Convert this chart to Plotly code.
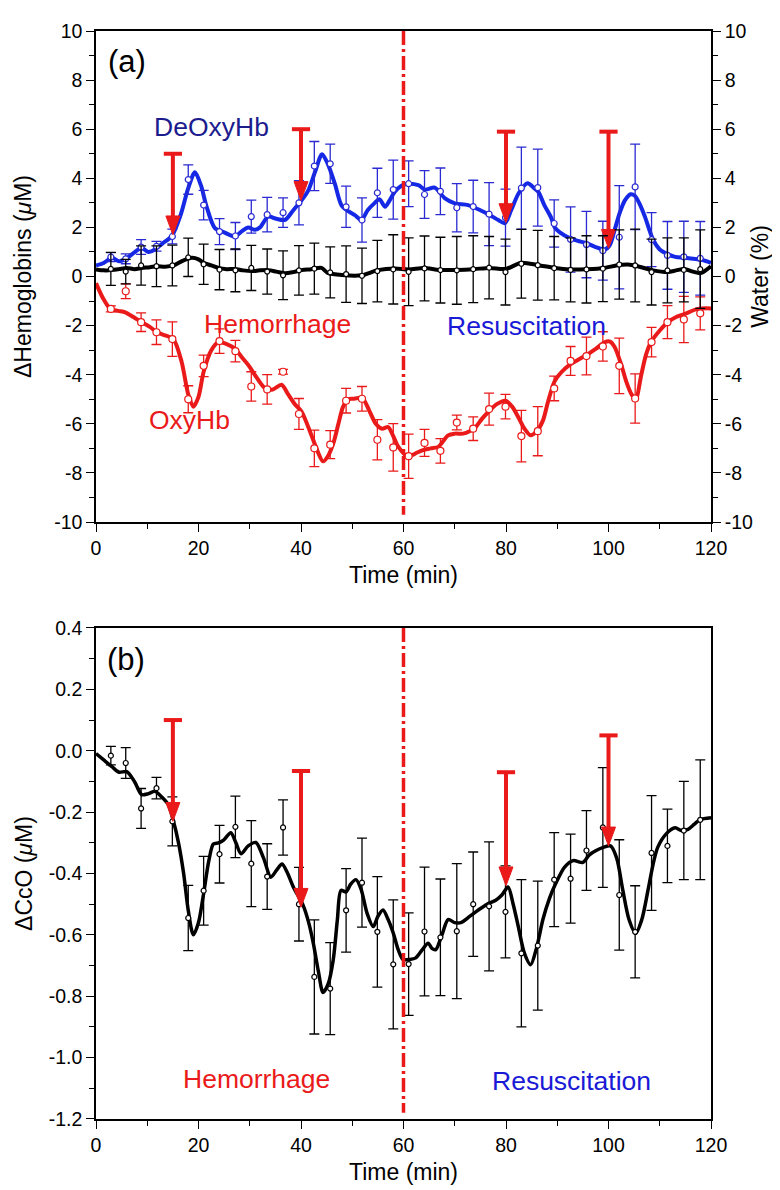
import plotly.graph_objects as go

# ---------------- data ----------------
t_pts = [2.9, 5.8, 8.8, 11.8, 14.9, 18.0, 21.0, 24.1, 27.2, 30.3, 33.4, 36.5, 39.6,
         42.6, 45.7, 48.8, 51.9, 54.9, 58.0, 61.0, 64.1, 67.2, 70.4, 73.6, 76.7,
         79.9, 83.0, 86.2, 89.4, 92.6, 95.7, 98.9, 102.1, 105.2, 108.4, 111.5,
         114.7, 117.9]

deoxy_pts = [0.79, 0.72, 1.2, 1.23, 1.63, 3.95, 2.91, 1.83, 1.65, 2.44, 2.52, 2.6, 3.0,
             4.5, 4.59, 2.84, 2.3, 3.41, 3.54, 3.78, 3.34, 3.47, 2.8, 2.85, 2.54,
             2.4, 3.6, 3.62, 2.16, 1.51, 1.3, 1.05, 1.6, 3.65, 1.5, 0.86, 0.8, 0.74]
deoxy_err = [0.18, 0.2, 0.3, 0.2, 0.3, 0.6, 0.6, 0.53, 0.55, 0.67, 0.7, 0.6, 0.9,
             1.0, 0.8, 0.84, 0.9, 1.0, 1.2, 0.93, 0.97, 0.95, 0.98, 1.07, 1.28,
             1.16, 1.67, 1.57, 0.96, 1.33, 1.35, 1.2, 2.1, 1.74, 1.1, 1.38, 1.45, 1.5]

oxy_pts = [-1.32, -0.6, -1.86, -2.27, -2.55, -5.0, -3.64, -2.63, -3.04, -4.48, -4.6, -3.88, -5.6,
           -7.0, -6.85, -5.06, -4.98, -6.65, -6.96, -7.32, -6.78, -7.1, -5.95, -6.2, -5.4,
           -5.3, -6.5, -6.3, -4.56, -3.44, -3.24, -2.85, -3.64, -4.97, -2.67, -1.86, -1.75, -1.5]
oxy_err = [0.12, 0.3, 0.38, 0.5, 0.7, 0.55, 0.44, 0.5, 0.44, 0.6, 0.6, 0.1, 0.63,
           0.74, 0.57, 0.5, 0.5, 0.82, 0.97, 0.9, 0.55, 0.5, 0.3, 0.48, 0.65,
           0.5, 1.05, 1.0, 0.5, 0.59, 0.77, 0.6, 1.13, 1.0, 0.6, 0.67, 0.94, 0.67]

water_pts = [0.31, 0.2, 0.45, 0.42, 0.45, 0.78, 0.5, 0.28, 0.25, 0.35, 0.2, 0.05, 0.25,
             0.32, 0.17, 0.1, 0.03, 0.22, 0.29, 0.19, 0.33, 0.26, 0.25, 0.3, 0.36,
             0.18, 0.52, 0.46, 0.34, 0.27, 0.29, 0.32, 0.49, 0.45, 0.18, 0.25, 0.27, 0.3]
water_err = [0.67, 0.5, 0.8, 0.83, 0.83, 0.78, 0.82, 0.82, 0.87, 0.92, 0.92, 0.99, 1.01,
             1.04, 1.04, 1.15, 1.13, 1.25, 1.41, 1.38, 1.32, 1.34, 1.38, 1.36, 1.27,
             1.34, 1.4, 1.42, 1.29, 1.3, 1.37, 1.34, 1.41, 1.48, 1.34, 1.32, 1.3, 1.6]

cco_pts = [-0.016, -0.04, -0.188, -0.122, -0.23, -0.545, -0.456, -0.337, -0.248, -0.368, -0.41, -0.25, -0.5,
           -0.737, -0.775, -0.52, -0.43, -0.59, -0.696, -0.695, -0.589, -0.608, -0.588, -0.5, -0.507,
           -0.525, -0.66, -0.635, -0.42, -0.417, -0.325, -0.25, -0.47, -0.59, -0.333, -0.31, -0.26, -0.225]
cco_err = [0.03, 0.05, 0.065, 0.035, 0.08, 0.106, 0.112, 0.094, 0.1, 0.14, 0.107, 0.09, 0.12,
           0.186, 0.15, 0.136, 0.145, 0.18, 0.21, 0.167, 0.21, 0.19, 0.22, 0.17, 0.21,
           0.15, 0.24, 0.21, 0.153, 0.145, 0.13, 0.195, 0.18, 0.15, 0.187, 0.12, 0.16, 0.195]

# smoothed curves
deoxy_curve_t = [0, 1.5, 3.1, 4.5, 5.7, 7.3, 8.9, 10.2, 11.5, 13, 14.8, 16.5, 18, 19.3, 20.5,
                 21.5, 23.2, 25, 27.1, 28.5, 29.7, 31, 32, 33.6, 35.2, 36.9, 38.5, 40.1, 41.4,
                 42.8, 44.1, 45.2, 46.6, 47.9, 49.3, 50.5, 51.8, 53, 54.4, 55.3, 56.4, 57.3,
                 58.3, 59.6, 60.9, 62.9, 64.2, 66.1, 68.1, 70, 72.6, 75.2, 76.8, 78.5, 79.8,
                 81, 82.5, 84.2, 85.5, 86.3, 87.5, 88.8, 89.5, 90.5, 92.4, 94, 95.7, 97.5,
                 99.3, 100.3, 101.2, 102.2, 103.2, 104.3, 105.1, 106.2, 107.1, 108.7, 110,
                 111.6, 113, 114.9, 116.5, 118.1, 120]
deoxy_curve_y = [0.45, 0.55, 0.76, 0.62, 0.7, 0.95, 1.16, 1.0, 1.1, 1.35, 1.65, 2.5, 3.6, 4.25, 3.7,
                 2.9, 1.97, 1.8, 1.63, 1.85, 2.0, 1.9, 2.0, 2.44, 2.35, 2.31, 2.7, 3.1, 3.5,
                 4.3, 4.98, 4.6, 3.78, 2.9, 2.65, 2.5, 2.3, 2.7, 3.0, 3.15, 2.84, 3.1,
                 3.45, 3.7, 3.78, 3.72, 3.54, 3.62, 3.18, 2.98, 2.91, 2.68, 2.51, 2.3, 2.17,
                 2.7, 3.4, 3.8, 3.6, 3.45, 2.9, 2.4, 2.0, 1.8, 1.57, 1.45, 1.36, 1.2,
                 1.1, 1.3, 1.9, 2.6, 3.1, 3.35, 3.3, 2.9, 2.44, 1.5, 1.1,
                 0.9, 0.8, 0.76, 0.72, 0.68, 0.56]

oxy_curve_t = [0, 1.4, 2.8, 4.3, 5.7, 7.3, 8.9, 10.5, 11.9, 13.5, 15.1, 16.7, 18, 19, 20, 21,
               22.5, 23.9, 25.5, 27.1, 28.5, 29.7, 31.3, 33, 34.5, 36.2, 37.5, 38.8, 40.1,
               41.9, 43.2, 44.3, 45.3, 46.3, 47.3, 48.2, 49.2, 50.2, 51.2, 52.1, 53.4, 54.6,
               55.8, 57, 58, 59, 60.9, 62.4, 63.8, 65.3, 66.8, 68.7, 70, 71.6, 72.9, 74.1,
               75.3, 76.5, 78.2, 79.9, 81.2, 82.4, 83.6, 84.8, 86, 87.2, 88.2, 89.5, 90.8,
               92.4, 94, 95.7, 97.5, 99.3, 100.3, 101.2, 102.5, 103.5, 104.5, 105.3, 106.4,
               107.3, 108.3, 110, 111.6, 113.2, 114.9, 117.4, 120]
oxy_curve_y = [-0.27, -0.9, -1.32, -1.4, -1.46, -1.65, -1.86, -2.05, -2.27, -2.4, -2.55, -3.47, -4.8, -5.3, -4.9, -3.88,
               -3.0, -2.67, -2.75, -2.94, -3.3, -3.6, -4.1, -4.55, -4.6, -4.41, -4.8, -5.2, -5.5,
               -6.39, -7.1, -7.53, -7.3, -6.8, -6.0, -5.31, -5.0, -4.98, -4.95, -4.98, -5.5, -6.0,
               -6.2, -6.13, -6.5, -6.94, -7.34, -7.2, -7.07, -7.0, -6.94, -6.47, -6.4, -6.4, -6.3, -6.13,
               -5.8, -5.53, -5.2, -5.06, -5.3, -5.73, -6.2, -6.47, -6.3, -5.87, -5.1, -4.26, -3.9,
               -3.6, -3.4, -3.2, -2.95, -2.67, -2.65, -2.87, -3.6, -4.3, -4.8, -5.0, -4.0,
               -3.2, -2.67, -2.2, -1.86, -1.65, -1.52, -1.32, -1.3]

water_curve_t = [0, 1.5, 3.1, 4.5, 6, 7.5, 8.9, 10.5, 11.9, 13.5, 15.1, 17, 18.7, 20, 21, 22.5,
                 23.9, 25.5, 27.1, 28.7, 30.4, 32, 33.6, 35.2, 36.9, 38.5, 40.1, 42, 44, 45.2,
                 48, 51.8, 55, 58.3, 61, 64, 67, 70.5, 73.7, 76.8, 80, 83, 86.3, 89.5, 92.4,
                 95.8, 99.2, 101.5, 103.8, 106, 108.7, 111.6, 113.2, 114.8, 116.5, 118, 120]
water_curve_y = [0.29, 0.25, 0.26, 0.3, 0.35, 0.3, 0.35, 0.38, 0.42, 0.4, 0.45, 0.65, 0.76, 0.7, 0.56, 0.45,
                 0.35, 0.3, 0.31, 0.25, 0.22, 0.25, 0.26, 0.2, 0.13, 0.18, 0.26, 0.3, 0.35, 0.15,
                 0.06, 0.05, 0.26, 0.33, 0.29, 0.35, 0.27, 0.27, 0.3, 0.35, 0.31, 0.56, 0.46, 0.35, 0.29,
                 0.3, 0.35, 0.45, 0.49, 0.4, 0.25, 0.18, 0.25, 0.31, 0.2, 0.14, 0.42]

cco_curve_t = [0, 1.5, 3.1, 4.5, 6, 7.5, 8.9, 10.2, 11.5, 12.8, 14.1, 15.1, 16.1, 17.1, 18, 19, 20,
               21, 22, 22.9, 23.9, 24.9, 26.3, 27.3, 28.3, 29.7, 31.2, 32.7, 34.1, 35.2, 36.3,
               37.4, 38.5, 40.4, 41.5, 42.4, 43.4, 44.3, 45.3, 46.3, 47.1, 47.8, 48.8, 49.7,
               50.7, 51.7, 52.9, 54.1, 55, 56, 57, 58, 59, 59.9, 61.2, 62.4, 63.6, 64.8, 65.6,
               66.3, 67.5, 68.7, 70, 71.2, 72.9, 74.6, 76.3, 78, 79.2, 80.4, 81.4, 82.4, 83.6,
               84.8, 86, 87.2, 88.5, 89.7, 91.4, 93.1, 95, 96.2, 97.5, 99, 100.4, 101.6, 102.8,
               104, 105.3, 106.5, 107.7, 108.7, 109.6, 111.3, 113, 114.2, 115.5, 116.7, 117.9, 120]
cco_curve_y = [-0.009, -0.03, -0.052, -0.07, -0.068, -0.1, -0.143, -0.14, -0.132, -0.15, -0.175, -0.229, -0.3, -0.4, -0.52, -0.6, -0.56,
               -0.465, -0.36, -0.304, -0.3, -0.291, -0.267, -0.3, -0.336, -0.31, -0.299, -0.35, -0.412, -0.39, -0.369,
               -0.4, -0.444, -0.503, -0.56, -0.627, -0.72, -0.788, -0.76, -0.68, -0.55, -0.455, -0.46, -0.435,
               -0.42, -0.45, -0.53, -0.573, -0.54, -0.519, -0.55, -0.594, -0.65, -0.68, -0.68, -0.675, -0.65, -0.627, -0.645,
               -0.648, -0.6, -0.55, -0.56, -0.56, -0.54, -0.519, -0.5, -0.487, -0.47, -0.444, -0.5, -0.573, -0.66,
               -0.697, -0.64, -0.55, -0.48, -0.433, -0.38, -0.358, -0.364, -0.34, -0.326, -0.315, -0.31, -0.35, -0.455,
               -0.55, -0.595, -0.55, -0.455, -0.37, -0.315, -0.27, -0.251, -0.26, -0.256, -0.24, -0.224, -0.218]

# red arrows (time, top of bar, arrow tip)
arrow_t = [15, 40, 80, 100]
arrow_top_a = [5.0, 6.0, 5.9, 5.9]
arrow_tip_a = [1.7, 3.1, 2.2, 1.15]
arrow_top_b = [0.1, -0.066, -0.07, 0.05]
arrow_tip_b = [-0.23, -0.51, -0.44, -0.31]

phase_change_t = 60

time_ticks = [0, 20, 40, 60, 80, 100, 120]
time_ticktext = ["0", "20", "40", "60", "80", "100", "120"]
hb_ticks = [-10, -8, -6, -4, -2, 0, 2, 4, 6, 8, 10]
hb_ticktext = ["-10", "-8", "-6", "-4", "-2", "0", "2", "4", "6", "8", "10"]
cco_ticks = [-1.2, -1.0, -0.8, -0.6, -0.4, -0.2, 0.0, 0.2, 0.4]
cco_ticktext = ["-1.2", "-1.0", "-0.8", "-0.6", "-0.4", "-0.2", "0.0", "0.2", "0.4"]

# ---------------- style ----------------
FONT = "Liberation Sans, Arial, Helvetica, sans-serif"
RED = "#ea1a1a"
BLUE = "#1428e6"
BLUE_ERR = "#2a2ad2"
NAVY = "#1c1c8e"
BLACK = "#000000"

W, H = 780, 1190
ML, MR, MT, MB = 88, 77, 12, 79
DOM_A = [0.5487, 1.0]
DOM_B = [0.0, 0.4513]
X_RANGE = [0, 120]
HB_RANGE = [-10, 10]
CCO_RANGE = [-1.2, 0.4]

plot_w = W - ML - MR
plot_h = H - MT - MB
x_per_px = (X_RANGE[1] - X_RANGE[0]) / plot_w
ya_per_px = (HB_RANGE[1] - HB_RANGE[0]) / (plot_h * (DOM_A[1] - DOM_A[0]))
yb_per_px = (CCO_RANGE[1] - CCO_RANGE[0]) / (plot_h * (DOM_B[1] - DOM_B[0]))
HEAD_LEN_PX, HEAD_HALF_W_PX = 19, 7

fig = go.Figure()


def curve(x, y, color, width, xa, ya):
    return go.Scatter(x=x, y=y, mode="lines", line=dict(color=color, width=width, shape="spline", smoothing=0.8),
                      xaxis=xa, yaxis=ya, showlegend=False, hoverinfo="skip")


def points(x, y, err, color, xa, ya, size=6):
    return go.Scatter(x=x, y=y, mode="markers",
                      error_y=dict(type="data", array=err, color=color, thickness=1.3, width=5),
                      marker=dict(symbol="circle", size=size, color="white", line=dict(color=color, width=1.2)),
                      xaxis=xa, yaxis=ya, showlegend=False, hoverinfo="skip")


def add_arrows(ts, tops, tips, xa, ya, y_per_px):
    sx, sy, hx, hy = [], [], [], []
    hw = HEAD_HALF_W_PX * x_per_px
    for t, top, tip in zip(ts, tops, tips):
        base = tip + HEAD_LEN_PX * y_per_px
        sx += [t, t, None]
        sy += [top, base - 3 * y_per_px, None]
        hx += [t - hw, t + hw, t, t - hw, None]
        hy += [base, base, tip, base, None]
    fig.add_trace(go.Scatter(x=sx, y=sy, mode="lines", line=dict(color=RED, width=4),
                             xaxis=xa, yaxis=ya, showlegend=False, hoverinfo="skip"))
    fig.add_trace(go.Scatter(x=hx, y=hy, mode="lines", fill="toself", fillcolor=RED,
                             line=dict(color=RED, width=1), xaxis=xa, yaxis=ya,
                             showlegend=False, hoverinfo="skip"))
    fig.add_trace(go.Scatter(x=ts, y=tops, mode="markers",
                             marker=dict(symbol="line-ew", size=13, line=dict(color=RED, width=4)),
                             xaxis=xa, yaxis=ya, showlegend=False, hoverinfo="skip"))


# panel (a)
fig.add_trace(curve(water_curve_t, water_curve_y, BLACK, 4, "x", "y3"))
fig.add_trace(points(t_pts, water_pts, water_err, BLACK, "x", "y3", 5))
fig.add_trace(curve(deoxy_curve_t, deoxy_curve_y, BLUE, 4, "x", "y"))
fig.add_trace(points(t_pts, deoxy_pts, deoxy_err, BLUE_ERR, "x", "y", 6))
fig.add_trace(curve(oxy_curve_t, oxy_curve_y, RED, 4, "x", "y"))
fig.add_trace(points(t_pts, oxy_pts, oxy_err, RED, "x", "y", 7))
add_arrows(arrow_t, arrow_top_a, arrow_tip_a, "x", "y", ya_per_px)

# panel (b)
fig.add_trace(curve(cco_curve_t, cco_curve_y, BLACK, 3.5, "x2", "y2"))
fig.add_trace(points(t_pts, cco_pts, cco_err, BLACK, "x2", "y2", 5))
add_arrows(arrow_t, arrow_top_b, arrow_tip_b, "x2", "y2", yb_per_px)

# dash-dot separators
fig.add_shape(type="line", xref="x", yref="y", x0=phase_change_t, x1=phase_change_t, y0=10, y1=-9.7,
              line=dict(color=RED, width=3.5, dash="14px,4px,3px,4px"))
fig.add_shape(type="line", xref="x2", yref="y2", x0=phase_change_t, x1=phase_change_t, y0=0.4, y1=-1.18,
              line=dict(color=RED, width=3.5, dash="14px,4px,3px,4px"))


# text labels
def label(text, x, y, color, size, xr, yr):
    fig.add_annotation(x=x, y=y, xref=xr, yref=yr, text=text, showarrow=False,
                       font=dict(family=FONT, size=size, color=color), xanchor="center", yanchor="middle")


label("(a)", 6.1, 8.77, BLACK, 31, "x", "y")
label("DeOxyHb", 22.6, 6.07, NAVY, 26.5, "x", "y")
label("Hemorrhage", 35.4, -1.93, RED, 26.5, "x", "y")
label("Resuscitation", 84, -2.0, "#1a1ad6", 26.5, "x", "y")
label("OxyHb", 18.2, -5.83, RED, 26.5, "x", "y")
label("(b)", 5.85, 0.298, BLACK, 31, "x2", "y2")
label("Hemorrhage", 31.4, -1.07, RED, 26.5, "x2", "y2")
label("Resuscitation", 92.8, -1.077, "#1a1ad6", 26.5, "x2", "y2")

tickfont = dict(family=FONT, size=19.5, color=BLACK)
titlefont = dict(family=FONT, size=23, color=BLACK)

xcommon = dict(range=X_RANGE, tickmode="array", tickvals=time_ticks, ticktext=time_ticktext,
               ticks="outside", ticklen=8, tickwidth=1.3, tickcolor=BLACK,
               minor=dict(dtick=10, tick0=0, ticks="outside", ticklen=5, tickwidth=1.3, tickcolor=BLACK),
               showline=True, linecolor=BLACK, linewidth=2, mirror=True, showgrid=False, zeroline=False,
               tickfont=tickfont, title=dict(text="Time (min)", font=titlefont, standoff=8))

fig.update_layout(
    width=W, height=H,
    margin=dict(l=ML, r=MR, t=MT, b=MB),
    paper_bgcolor="white", plot_bgcolor="white",
    xaxis=dict(anchor="y", domain=[0, 1], **xcommon),
    xaxis2=dict(anchor="y2", domain=[0, 1], **xcommon),
    yaxis=dict(domain=DOM_A, anchor="x", range=HB_RANGE, tickmode="array", tickvals=hb_ticks,
               ticktext=hb_ticktext, ticks="outside", ticklen=8, tickwidth=1.3, tickcolor=BLACK,
               minor=dict(dtick=1, tick0=0, ticks="outside", ticklen=5, tickwidth=1.3, tickcolor=BLACK),
               showline=True, linecolor=BLACK, linewidth=1.5, showgrid=False, zeroline=False,
               tickfont=tickfont, title=dict(text="ΔHemoglobins (<i>μ</i>M)", font=titlefont, standoff=16)),
    yaxis3=dict(overlaying="y", anchor="x", side="right", range=HB_RANGE, tickmode="array", tickvals=hb_ticks,
                ticktext=hb_ticktext, ticks="outside", ticklen=8, tickwidth=1.3, tickcolor=BLACK,
                minor=dict(dtick=1, tick0=0, ticks="outside", ticklen=5, tickwidth=1.3, tickcolor=BLACK),
                showline=True, linecolor=BLACK, linewidth=1.5, showgrid=False, zeroline=False,
                tickfont=tickfont, title=dict(text="Water (%)", font=titlefont, standoff=0)),
    yaxis2=dict(domain=DOM_B, anchor="x2", range=CCO_RANGE, tickmode="array", tickvals=cco_ticks,
                ticktext=cco_ticktext, ticks="outside", ticklen=8, tickwidth=1.3, tickcolor=BLACK,
                minor=dict(dtick=0.1, tick0=0, ticks="outside", ticklen=5, tickwidth=1.3, tickcolor=BLACK),
                showline=True, linecolor=BLACK, linewidth=1.5, mirror=True, showgrid=False, zeroline=False,
                tickfont=tickfont, title=dict(text="ΔCcO (<i>μ</i>M)", font=titlefont, standoff=10)),
    font=dict(family=FONT),
)

fig.write_html("out.html")
